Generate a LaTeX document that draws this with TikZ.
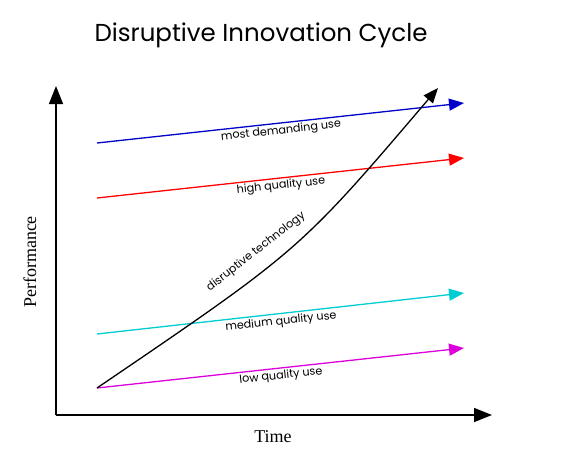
\documentclass[tikz,border=0pt]{standalone}
\usepackage{fontspec}
\setmainfont{Liberation Serif}
\newfontfamily\gothic{Poppins}
\usetikzlibrary{arrows.meta}
\definecolor{dblue}{RGB}{0,0,200}
\definecolor{cyanc}{RGB}{0,205,210}
\definecolor{magc}{RGB}{220,0,220}
\tikzset{
  trend/.style={line width=1.3pt,-{Triangle[length=15pt,width=12pt]}},
  lbl/.style={font=\gothic\fontsize{11.2}{13}\selectfont,inner sep=0pt},
  axis/.style={line width=1.5pt,-{Triangle[length=18pt,width=14pt]}}
}
\begin{document}
\begin{tikzpicture}[x=1pt,y=-1pt]
\useasboundingbox (0,0) rectangle (584,460);
\node[font=\gothic\fontsize{24.5}{28}\selectfont] (title) at (261,35) {Disruptive Innovation Cycle};
% axes
\coordinate (O) at (56,415);
\coordinate (ytop) at (56,86);
\coordinate (xend) at (492,415);
\draw[axis] (O) -- (ytop);
\draw[axis] (O) -- (xend);
\node[font=\fontsize{18}{21}\selectfont] (time) at (273,437) {Time};
\node[font=\fontsize{18}{21}\selectfont,rotate=90] (perf) at (30,262) {Performance};
% trend lines
\coordinate (b0) at (97,143); \coordinate (b1) at (464,103);
\coordinate (r0) at (97,198); \coordinate (r1) at (464,158);
\coordinate (c0) at (97,334); \coordinate (c1) at (464,293);
\coordinate (m0) at (97,388); \coordinate (m1) at (464,348);
\draw[trend,dblue] (b0) -- (b1);
\draw[trend,red] (r0) -- (r1);
\draw[trend,cyanc] (c0) -- (c1);
\draw[trend,magc] (m0) -- (m1);
\node[lbl,rotate=6.2] (lb) at (281,131) {most demanding use};
\node[lbl,rotate=6.2] (lr) at (281,186) {high quality use};
\node[lbl,rotate=6.2] (lc) at (281,322) {medium quality use};
\node[lbl,rotate=6.2] (lm) at (281,376) {low quality use};
% disruptive technology
\coordinate (d1) at (438,88);
\draw[line width=1.3pt,-{Triangle[length=15pt,width=12pt]}] (m0) .. controls (300,250) .. (d1);
\node[lbl,rotate=38] (ld) at (256,252) {disruptive technology};
\end{tikzpicture}
\end{document}
